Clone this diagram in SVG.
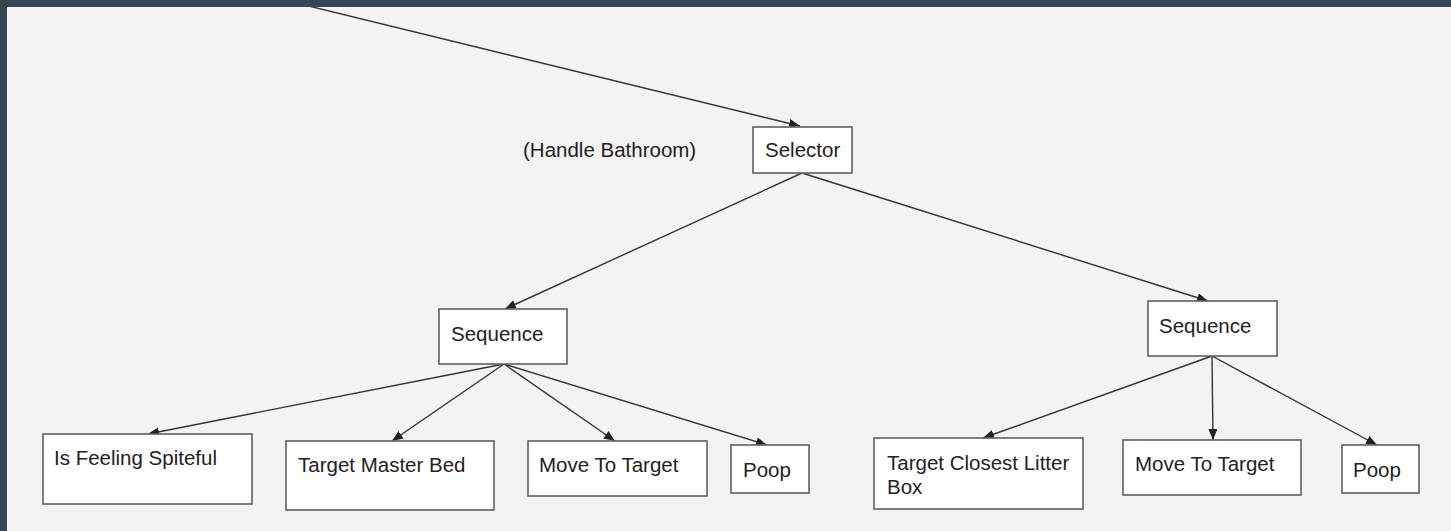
<svg xmlns="http://www.w3.org/2000/svg" width="1451" height="531" viewBox="0 0 1451 531">
  <style>
    .box { fill: #ffffff; stroke: #5f5f5f; stroke-width: 1.6; }
    .lbl { font-family: "Liberation Sans", Arial, sans-serif; font-size: 20.5px; fill: #222222; }
    .edge { stroke: #333333; stroke-width: 1.4; fill: none; marker-end: url(#arrow); }
  </style>
  <defs>
    <marker id="arrow" markerUnits="userSpaceOnUse" markerWidth="12" markerHeight="10" refX="11" refY="4.5" orient="auto">
      <path d="M0,0 L11,4.5 L0,9 z" fill="#222222"/>
    </marker>
  </defs>

  <!-- canvas -->
  <rect x="0" y="0" width="1451" height="531" fill="#f3f3f3"/>

  <!-- connectors -->
  <g id="connectors">
    <line class="edge" x1="280" y1="-1" x2="800" y2="126"/>
    <line class="edge" x1="802" y1="173" x2="505" y2="309"/>
    <line class="edge" x1="802" y1="173" x2="1208" y2="301"/>
    <line class="edge" x1="504" y1="364" x2="148" y2="434"/>
    <line class="edge" x1="504" y1="364" x2="392" y2="441"/>
    <line class="edge" x1="504" y1="364" x2="615" y2="441"/>
    <line class="edge" x1="504" y1="364" x2="767" y2="445"/>
    <line class="edge" x1="1212" y1="356" x2="983" y2="438"/>
    <line class="edge" x1="1212" y1="356" x2="1213" y2="440"/>
    <line class="edge" x1="1212" y1="356" x2="1377" y2="445"/>
  </g>

  <g id="handle-bathroom-label">
    <text class="lbl" x="523" y="157">(Handle Bathroom)</text>
  </g>

  <g id="selector">
    <rect class="box" x="753" y="127" width="99" height="46"/>
    <text class="lbl" x="765" y="157">Selector</text>
  </g>

  <g id="sequence-left">
    <rect class="box" x="439" y="309" width="128" height="55"/>
    <text class="lbl" x="451" y="341">Sequence</text>
  </g>

  <g id="sequence-right">
    <rect class="box" x="1148" y="301" width="129" height="55"/>
    <text class="lbl" x="1159" y="333">Sequence</text>
  </g>

  <g id="is-feeling-spiteful">
    <rect class="box" x="43" y="434" width="209" height="70"/>
    <text class="lbl" x="54" y="465">Is Feeling Spiteful</text>
  </g>

  <g id="target-master-bed">
    <rect class="box" x="286" y="441" width="208" height="69"/>
    <text class="lbl" x="298" y="472">Target Master Bed</text>
  </g>

  <g id="move-to-target-left">
    <rect class="box" x="528" y="441" width="179" height="55"/>
    <text class="lbl" x="539" y="472">Move To Target</text>
  </g>

  <g id="poop-left">
    <rect class="box" x="731" y="445" width="78" height="48"/>
    <text class="lbl" x="743" y="477">Poop</text>
  </g>

  <g id="target-closest-litter-box">
    <rect class="box" x="874" y="438" width="209" height="71"/>
    <text class="lbl" x="887" y="470">Target Closest Litter</text>
    <text class="lbl" x="887" y="494">Box</text>
  </g>

  <g id="move-to-target-right">
    <rect class="box" x="1123" y="440" width="178" height="55"/>
    <text class="lbl" x="1135" y="471">Move To Target</text>
  </g>

  <g id="poop-right">
    <rect class="box" x="1342" y="445" width="77" height="48"/>
    <text class="lbl" x="1353" y="477">Poop</text>
  </g>

  <!-- frame edges -->
  <rect x="0" y="0" width="1451" height="7" fill="#374651"/>
  <rect x="0" y="0" width="7" height="531" fill="#374651"/>
</svg>
